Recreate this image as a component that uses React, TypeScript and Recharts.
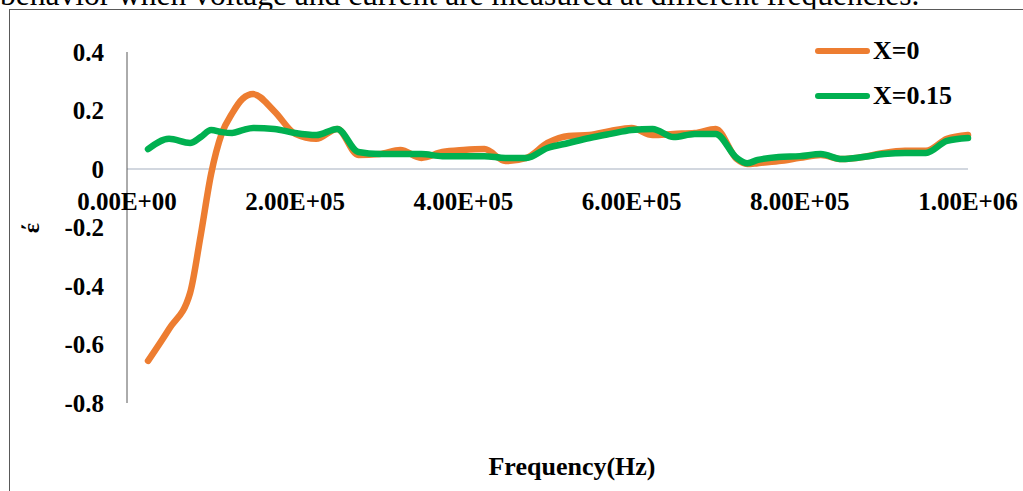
import { LineChart, Line, XAxis, YAxis, ReferenceLine, Legend } from "recharts";

const FONT = "'Liberation Serif', 'Times New Roman', serif";

// frequency (Hz)
const FREQ = [
  25000, 50000, 75000, 87500, 100000, 112500, 125000, 137500, 150000, 175000,
  200000, 225000, 250000, 275000, 300000, 325000, 350000, 375000, 400000, 425000,
  450000, 475000, 500000, 525000, 550000, 575000, 600000, 625000, 650000, 675000,
  700000, 725000, 737500, 750000, 775000, 800000, 825000, 850000, 875000, 900000,
  925000, 950000, 975000, 1000000,
];

// X=0
const X0 = [
  -0.656, -0.547, -0.424, -0.229, -0.017, 0.12, 0.19, 0.24, 0.256, 0.198,
  0.12, 0.103, 0.137, 0.048, 0.051, 0.065, 0.038, 0.058, 0.065, 0.068,
  0.027, 0.038, 0.089, 0.113, 0.116, 0.13, 0.14, 0.116, 0.12, 0.123,
  0.137, 0.034, 0.017, 0.02, 0.027, 0.038, 0.048, 0.034, 0.041, 0.055,
  0.062, 0.062, 0.103, 0.116,
];

// X=0.15
const X015 = [
  0.068, 0.103, 0.089, 0.109, 0.133, 0.126, 0.123, 0.133, 0.14, 0.137,
  0.123, 0.116, 0.137, 0.058, 0.051, 0.051, 0.051, 0.044, 0.044, 0.044,
  0.038, 0.038, 0.072, 0.089, 0.106, 0.12, 0.133, 0.137, 0.109, 0.12,
  0.12, 0.038, 0.02, 0.031, 0.041, 0.044, 0.051, 0.034, 0.041, 0.051,
  0.055, 0.055, 0.096, 0.106,
];

const X_TICKS = [0, 200000, 400000, 600000, 800000, 1000000];
const X_TICK_LABELS = ["0.00E+00", "2.00E+05", "4.00E+05", "6.00E+05", "8.00E+05", "1.00E+06"];
const Y_TICKS = [-0.8, -0.6, -0.4, -0.2, 0, 0.2, 0.4];
const Y_MIN = -0.8;
const Y_MAX = 0.4;

const data = FREQ.map((f, i) => ({ f, x0: X0[i], x015: X015[i] }));

const PLOT_H = 351;
// x tick labels sit under the zero line, not at the bottom of the plot
const ZERO_SHIFT = (PLOT_H * (0 - Y_MIN)) / (Y_MAX - Y_MIN);

function XTick(props: any) {
  const { x, y, payload } = props;
  const i = X_TICKS.indexOf(payload.value);
  return (
    <text
      x={x}
      y={y - 8 - ZERO_SHIFT}
      dy={41}
      textAnchor="middle"
      fontFamily={FONT}
      fontWeight="bold"
      fontSize={25}
      fill="#000"
    >
      {X_TICK_LABELS[i]}
    </text>
  );
}

function LegendContent({ payload }: any) {
  return (
    <div>
      {(payload || []).map((p: any) => (
        <div key={p.value} style={{ display: "flex", alignItems: "center", height: 45 }}>
          <span
            style={{
              width: 55,
              height: 6,
              borderRadius: 3,
              background: p.color,
              marginRight: 3,
              display: "inline-block",
            }}
          />
          <span style={{ fontFamily: FONT, fontWeight: 700, fontSize: 26, color: "#000" }}>
            {p.value}
          </span>
        </div>
      ))}
    </div>
  );
}

export default function App() {
  return (
    <div
      style={{
        position: "absolute",
        left: 0,
        top: 0,
        width: 1023,
        height: 491,
        overflow: "hidden",
        background: "#fff",
      }}
    >
      {/* clipped line of document text above the figure */}
      <div
        style={{
          position: "absolute",
          left: 0,
          top: -23,
          whiteSpace: "nowrap",
          fontFamily: FONT,
          fontSize: 31.5,
          color: "#000",
        }}
      >
        behavior when voltage and current are measured at different frequencies.
      </div>

      {/* figure frame */}
      <div
        style={{
          position: "absolute",
          left: 9,
          top: 9,
          width: 1040,
          height: 520,
          background: "#fff",
          borderLeft: "1.5px solid #595959",
          borderTop: "1.5px solid #595959",
        }}
      />

      <div style={{ position: "absolute", left: 0, top: 0 }}>
        <LineChart
          width={1023}
          height={491}
          data={data}
          margin={{ top: 52, right: 55, bottom: 58, left: 67 }}
        >
          <XAxis
            dataKey="f"
            type="number"
            domain={[0, 1000000]}
            ticks={X_TICKS}
            axisLine={false}
            tickLine={false}
            height={30}
            tick={<XTick />}
            interval={0}
          />
          <YAxis
            type="number"
            domain={[Y_MIN, Y_MAX]}
            ticks={Y_TICKS}
            width={60}
            axisLine={{ stroke: "#595959", strokeWidth: 1 }}
            tickLine={false}
            tickSize={21}
            interval={0}
            tickFormatter={(v: number) => String(Math.round(v * 10) / 10)}
            tick={{ fontFamily: FONT, fontWeight: "bold", fontSize: 25, fill: "#000" }}
          />
          <ReferenceLine y={0} stroke="#C3CAD5" strokeWidth={1.5} />
          <Legend
            layout="vertical"
            align="center"
            verticalAlign="middle"
            wrapperStyle={{ top: 28, left: 815, width: 200 }}
            content={<LegendContent />}
          />
          <Line
            type="monotone"
            dataKey="x0"
            name="X=0"
            stroke="#ED7D31"
            strokeWidth={6.5}
            strokeLinecap="round"
            strokeLinejoin="round"
            dot={false}
            isAnimationActive={false}
          />
          <Line
            type="monotone"
            dataKey="x015"
            name="X=0.15"
            stroke="#00B050"
            strokeWidth={6.5}
            strokeLinecap="round"
            strokeLinejoin="round"
            dot={false}
            isAnimationActive={false}
          />
        </LineChart>
      </div>

      {/* y axis title, rotated */}
      <svg
        width={60}
        height={60}
        style={{ position: "absolute", left: 0, top: 198 }}
      >
        <text
          x={31}
          y={30}
          transform="rotate(-90 31 30)"
          textAnchor="middle"
          dominantBaseline="central"
          fontFamily={FONT}
          fontWeight="bold"
          fontSize={24}
          fill="#000"
        >
          έ
        </text>
      </svg>

      {/* x axis title */}
      <div
        style={{
          position: "absolute",
          left: 372,
          width: 400,
          top: 451,
          textAlign: "center",
          fontFamily: FONT,
          fontWeight: 700,
          fontSize: 26,
          lineHeight: "32px",
          color: "#000",
        }}
      >
        Frequency(Hz)
      </div>
    </div>
  );
}
